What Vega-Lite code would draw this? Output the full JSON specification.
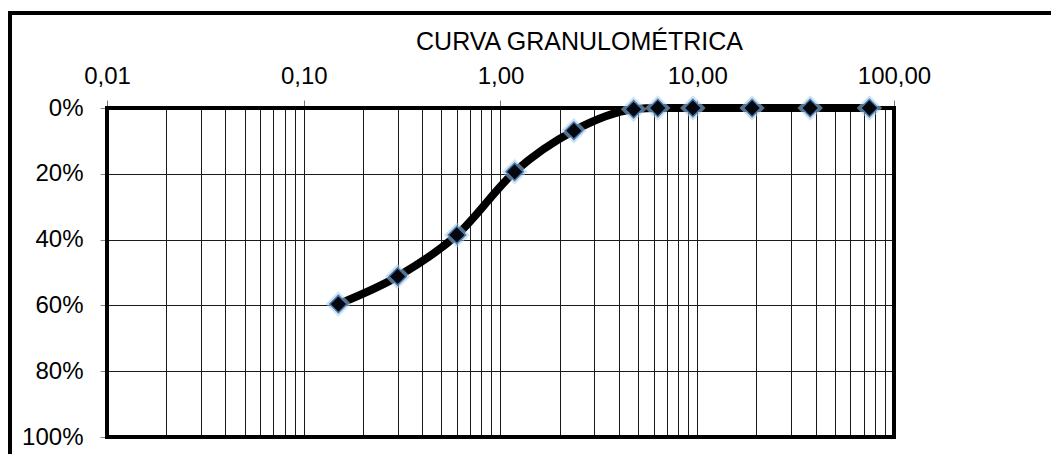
{
  "$schema": "https://vega.github.io/schema/vega-lite/v6.json",
  "autosize": {"type": "none"},
  "padding": {"left": 10, "top": 13, "right": 0, "bottom": 0},
  "width": 1051,
  "height": 451,
  "background": "white",
  "config": {
    "view": {"stroke": "black", "strokeWidth": 4},
    "font": "Liberation Sans"
  },
  "title": {
    "text": "CURVA GRANULOMÉTRICA",
    "font": "Liberation Sans",
    "fontSize": 25,
    "fontWeight": "normal",
    "color": "black",
    "anchor": "middle",
    "frame": "group",
    "baseline": "alphabetic",
    "offset": 0,
    "dx": 44,
    "dy": 62
  },
  "data": {
    "values": [
      {"size": 0.15, "pct": 0.596},
      {"size": 0.3, "pct": 0.512},
      {"size": 0.6, "pct": 0.386},
      {"size": 1.18, "pct": 0.194},
      {"size": 2.36, "pct": 0.069},
      {"size": 4.75, "pct": 0.004},
      {"size": 6.3, "pct": 0.0},
      {"size": 9.5, "pct": 0.0},
      {"size": 19, "pct": 0.0},
      {"size": 37.5, "pct": 0.0},
      {"size": 75, "pct": 0.0}
    ]
  },
  "encoding": {
    "x": {
      "field": "size",
      "type": "quantitative",
      "scale": {"type": "log", "domain": [0.01, 100], "range": [97, 884], "nice": false},
      "axis": {
        "orient": "top",
        "offset": -95,
        "title": null,
        "domain": false,
        "values": [0.01,0.02,0.03,0.04,0.05,0.06,0.07,0.08,0.09,0.1,0.2,0.3,0.4,0.5,0.6,0.7,0.8,0.9,1,2,3,4,5,6,7,8,9,10,20,30,40,50,60,70,80,90,100],
        "labelExpr": "(datum.value == 0.01 || datum.value == 0.1 || datum.value == 1 || datum.value == 10 || datum.value == 100) ? replace(format(datum.value, '.2f'), '.', ',') : ''",
        "labelFont": "Liberation Sans",
        "labelFontSize": 24,
        "labelColor": "black",
        "labelPadding": 12,
        "labelOverlap": false,
        "labelFlush": false,
        "tickSize": 8,
        "tickColor": {"condition": {"test": "datum.value == 0.01 || datum.value == 0.1 || datum.value == 1 || datum.value == 10 || datum.value == 100", "value": "#777777"}, "value": "transparent"},
        "grid": true,
        "gridColor": "#1a1a1a",
        "gridWidth": 1,
        "gridOpacity": 1
      }
    },
    "y": {
      "field": "pct",
      "type": "quantitative",
      "scale": {"domain": [0, 1], "range": [95, 424], "nice": false, "zero": false},
      "axis": {
        "orient": "left",
        "offset": -97,
        "title": null,
        "domain": false,
        "values": [0, 0.2, 0.4, 0.6, 0.8, 1],
        "format": ".0%",
        "labelFont": "Liberation Sans",
        "labelFontSize": 24,
        "labelColor": "black",
        "labelPadding": 17,
        "tickSize": 7,
        "tickColor": "#888888",
        "grid": true,
        "gridColor": "#1a1a1a",
        "gridWidth": 1,
        "gridOpacity": 1
      }
    }
  },
  "layer": [
    {
      "mark": {"type": "rect", "fill": "transparent", "stroke": "black", "strokeWidth": 4},
      "encoding": {
        "x": {"datum": 0.01, "type": "quantitative"},
        "x2": {"datum": 100},
        "y": {"datum": 0, "type": "quantitative"},
        "y2": {"datum": 1}
      }
    },
    {
      "mark": {"type": "line", "color": "black", "strokeWidth": 8, "interpolate": "monotone"}
    },
    {
      "mark": {"type": "point", "shape": "diamond", "size": 650, "filled": true, "color": "#a8cbea", "opacity": 0.55}
    },
    {
      "mark": {"type": "point", "shape": "diamond", "size": 300, "filled": true, "color": "#05070f", "opacity": 1, "stroke": "#4a7aab", "strokeWidth": 1.5}
    }
  ]
}
